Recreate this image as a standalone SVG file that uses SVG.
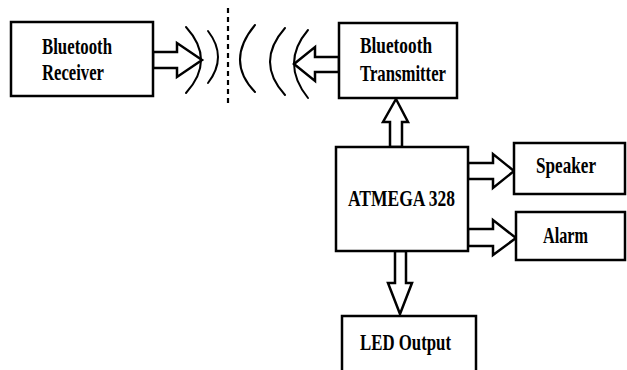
<svg xmlns="http://www.w3.org/2000/svg" width="627" height="370" viewBox="0 0 627 370">
<style>
.box{fill:#fff;stroke:#000;stroke-width:2.5}
.arr{fill:#fff;stroke:#000;stroke-width:2.5;stroke-linejoin:miter}
.wave{fill:none;stroke:#000;stroke-width:2;stroke-linecap:round}
.lbl{font-family:"Liberation Serif","Times New Roman",serif;font-weight:bold;font-size:22.5px;fill:#000}
</style>
<rect width="627" height="370" fill="#fff"/>
<g id="connectors">
<polygon class="arr" points="153,52 177,52 177,43 202,60 177,77 177,68 153,68"/>
<polygon class="arr" points="339,57 315,57 315,47 294,64 315,81 315,72 339,72"/>
<polygon class="arr" points="390,147 390,122 383,122 396,99 408,122 402,122 402,147"/>
<polygon class="arr" points="468,163 493,163 493,154 514,171 493,188 493,179 468,179"/>
<polygon class="arr" points="468,229 493,229 493,220 516,238 493,255 493,246 468,246"/>
<polygon class="arr" points="395,251 395,283 388,283 400,314 412,283 406,283 406,251"/>
</g>
<g id="waves">
<path class="wave" d="M186,27 Q216,60 186,93"/>
<path class="wave" d="M208,31 Q228,57 208,83"/>
<line x1="228" y1="8" x2="228" y2="106" stroke="#000" stroke-width="2.2" stroke-dasharray="5,4"/>
<path class="wave" d="M255,25 Q225,61 255,92"/>
<path class="wave" d="M285,28 Q255,62 285,95"/>
<path class="wave" d="M308,30 Q280,63 308,98"/>
</g>
<g id="bt-receiver">
<rect class="box" x="11" y="22" width="142" height="74"/>
<text class="lbl" x="42" y="54" textLength="70" lengthAdjust="spacingAndGlyphs">Bluetooth</text>
<text class="lbl" x="42" y="80" textLength="62" lengthAdjust="spacingAndGlyphs">Receiver</text>
</g>
<g id="bt-transmitter">
<rect class="box" x="339" y="23" width="118" height="75"/>
<text class="lbl" x="360" y="53" textLength="72" lengthAdjust="spacingAndGlyphs">Bluetooth</text>
<text class="lbl" x="360" y="81" textLength="86" lengthAdjust="spacingAndGlyphs">Transmitter</text>
</g>
<g id="atmega">
<rect class="box" x="336" y="147" width="132" height="104"/>
<text class="lbl" x="348" y="206" textLength="107" lengthAdjust="spacingAndGlyphs">ATMEGA 328</text>
</g>
<g id="speaker">
<rect class="box" x="514" y="143" width="111" height="51"/>
<text class="lbl" x="536" y="173" textLength="60" lengthAdjust="spacingAndGlyphs">Speaker</text>
</g>
<g id="alarm">
<rect class="box" x="516" y="212" width="109" height="48"/>
<text class="lbl" x="543" y="243" textLength="45" lengthAdjust="spacingAndGlyphs">Alarm</text>
</g>
<g id="led-output">
<rect class="box" x="342" y="316" width="134" height="70"/>
<text class="lbl" x="360" y="350" textLength="91" lengthAdjust="spacingAndGlyphs">LED Output</text>
</g>
</svg>
